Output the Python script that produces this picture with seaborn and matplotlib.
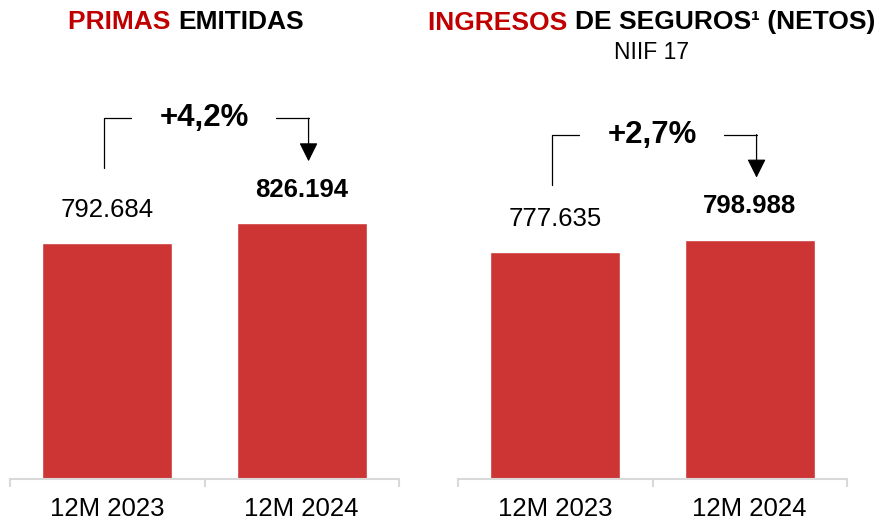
import matplotlib
matplotlib.use("Agg")
import matplotlib.pyplot as plt
from matplotlib.ticker import FixedLocator
import seaborn as sns

# Data
periods = ["12M 2023", "12M 2024"]
primas = [792684, 826194]
ingresos = [777635, 798988]

BAR_RED = "#CD3535"
TITLE_RED = "#C00000"
AXIS_GREY = "#D9D9D9"

sns.set_theme(style="white")
plt.rcParams["font.family"] = ["Liberation Sans", "DejaVu Sans"]

W, H = 883, 522
fig = plt.figure(figsize=(W / 100, H / 100), dpi=100)

# vertical scale: 0.6 px per thousand, axis starting at 400.000
ymin = 400000
px_per_unit = 0.6 / 1000
ax_bottom_px, ax_top_px = 479, 60
ymax = ymin + (ax_bottom_px - ax_top_px) / px_per_unit


def px(n):
    # n pixels expressed in data units
    return n / px_per_unit


def fmt(v):
    return f"{v:,.0f}".replace(",", ".")


def panel(left_px, values):
    ax = fig.add_axes([left_px / W, 1 - ax_bottom_px / H, 389 / W,
                       (ax_bottom_px - ax_top_px) / H])
    sns.barplot(x=periods, y=values, ax=ax, color=BAR_RED, width=0.668,
                saturation=1)
    ax.set_xlim(-0.5, 1.5)
    ax.set_ylim(ymin, ymax)
    ax.set_xlabel("")
    ax.set_ylabel("")
    ax.set_yticks([])
    for s in ["left", "right", "top"]:
        ax.spines[s].set_visible(False)
    ax.spines["bottom"].set_color(AXIS_GREY)
    ax.spines["bottom"].set_linewidth(1.5)
    ax.xaxis.set_minor_locator(FixedLocator([-0.5, 0.5, 1.5]))
    ax.tick_params(axis="x", which="major", length=0, pad=13, labelsize=18.5,
                   labelcolor="black")
    ax.tick_params(axis="x", which="minor", length=6, width=1.5,
                   color=AXIS_GREY, bottom=True)

    # value labels
    for i, v in enumerate(values):
        ax.annotate(fmt(v), xy=(i, v), xytext=(0, 24),
                    textcoords="offset points", ha="center", va="center",
                    fontsize=18.5, fontweight="bold" if i == 1 else "normal",
                    color="black")

    # growth bracket
    top = max(values) + px(105)
    bottom = top - px(50)
    tip = top - px(43)
    lx, rx = -0.015, 1.035
    ax.plot([lx, lx, 0.12], [bottom, top, top], color="black", lw=0.9,
            clip_on=False)
    ax.plot([0.87, rx], [top, top], color="black", lw=0.9, clip_on=False)
    ax.annotate("", xy=(rx, tip), xytext=(rx, top),
                arrowprops=dict(arrowstyle="-|>,head_length=0.46,head_width=0.23",
                                mutation_scale=25, color="black", lw=0.9,
                                shrinkA=0, shrinkB=0),
                annotation_clip=False)
    growth = (values[1] / values[0] - 1) * 100
    ax.text(0.5, top, f"+{growth:.1f}%".replace(".", ","), ha="center",
            va="center", fontsize=22.5, fontweight="bold", color="black")
    return ax


panel(10, primas)
panel(458, ingresos)


def two_tone_title(x_center, y_px, red, black, size):
    t1 = fig.text(0, 1 - y_px / H, red + " ", color=TITLE_RED, fontsize=size,
                  fontweight="bold", ha="left", va="center")
    t2 = fig.text(0, 1 - y_px / H, black, color="black", fontsize=size,
                  fontweight="bold", ha="left", va="center")
    fig.canvas.draw()
    r = fig.canvas.get_renderer()
    w1 = t1.get_window_extent(r).width
    w2 = t2.get_window_extent(r).width
    x0 = x_center - (w1 + w2) / 2
    t1.set_x(x0 / W)
    t2.set_x((x0 + w1) / W)


two_tone_title(186, 22, "PRIMAS", "EMITIDAS", 19)
two_tone_title(651.5, 22.5, "INGRESOS", "DE SEGUROS¹ (NETOS)", 19)
fig.text(652 / W, 1 - 52.5 / H, "NIIF 17", ha="center", va="center",
         fontsize=16.5, color="black")

fig.savefig("out.png", dpi=100)
